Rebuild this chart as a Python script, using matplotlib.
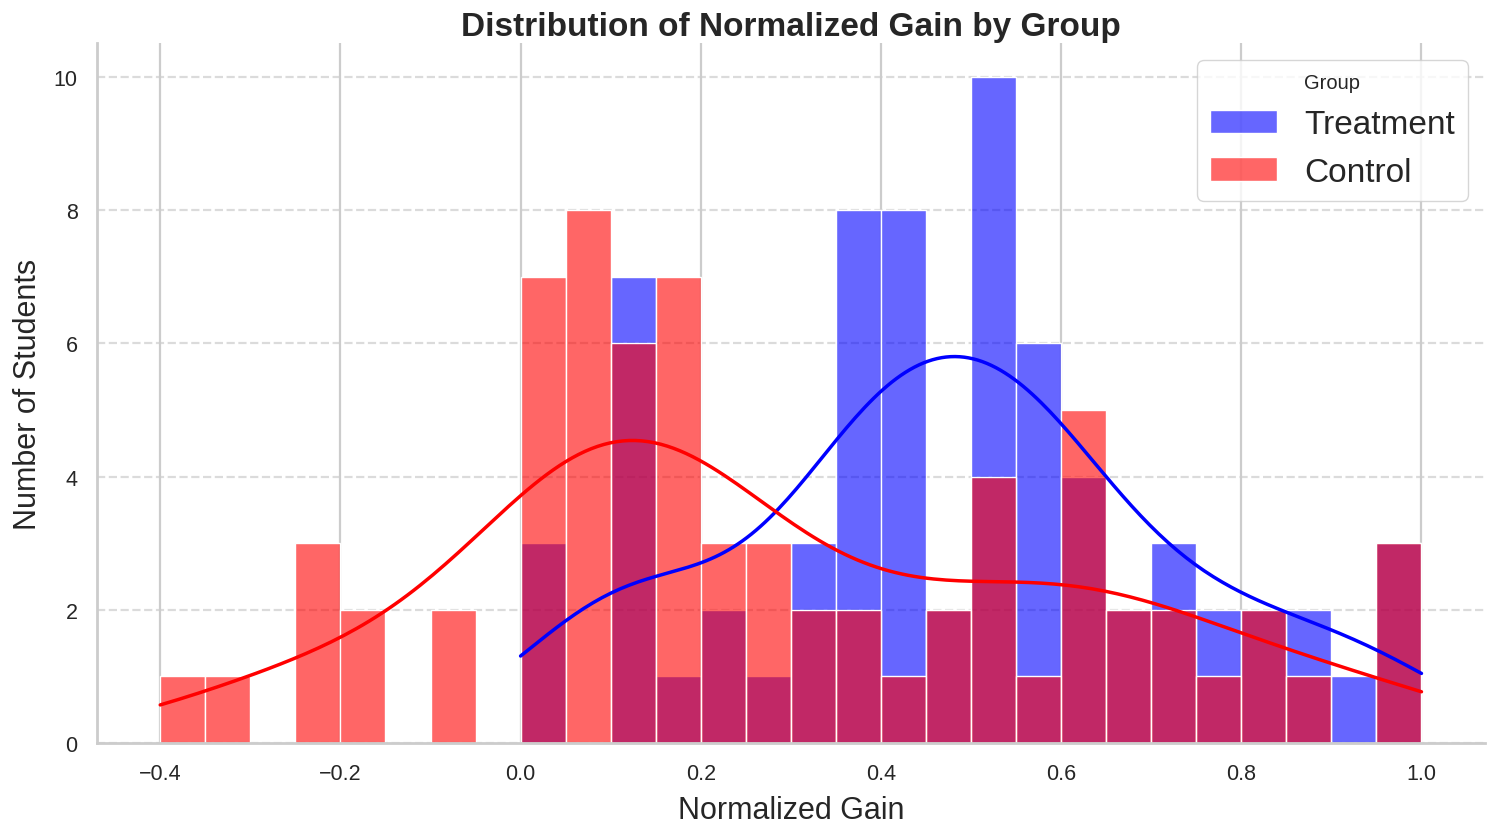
import numpy as np
import matplotlib
matplotlib.use("Agg")
import matplotlib.pyplot as plt
import seaborn as sns

# Histogram bins of 0.05 between -0.4 and 1.0
bin_lo = -0.4
bin_hi = 1.0
bin_w = 0.05

# Counts per bin (28 bins, left edges -0.4 ... 0.95)
treatment_counts = [0, 0, 0, 0, 0, 0, 0, 0,
                    3, 0, 7, 1, 2, 1, 3, 8, 8, 2, 10, 6, 4, 2, 3, 2, 2, 2, 1, 3]
control_counts = [1, 1, 0, 3, 2, 0, 2, 0,
                  7, 8, 6, 7, 3, 3, 2, 2, 1, 2, 4, 1, 5, 2, 2, 1, 2, 1, 0, 3]

edges = np.round(np.arange(bin_lo, bin_hi + bin_w / 2, bin_w), 3)
centers = (edges[:-1] + edges[1:]) / 2
treatment_gain = np.repeat(centers, treatment_counts)
control_gain = np.repeat(centers, control_counts)

sns.set_theme(style="whitegrid")
plt.rcParams['font.family'] = ['Liberation Sans', 'DejaVu Sans']
plt.rcParams['grid.linewidth'] = 1.6

fig, ax = plt.subplots(figsize=(14.95, 8.37), dpi=100)

sns.histplot(treatment_gain, bins=edges, color="blue", alpha=0.6, kde=True,
             kde_kws={"cut": 3, "clip": (0.0, bin_hi)},
             line_kws={"linewidth": 2.5}, edgecolor="white", label="Treatment", ax=ax)
sns.histplot(control_gain, bins=edges, color="red", alpha=0.6, kde=True,
             kde_kws={"cut": 3, "clip": (bin_lo, bin_hi)},
             line_kws={"linewidth": 2.5}, edgecolor="white", label="Control", ax=ax)

ax.set_title("Distribution of Normalized Gain by Group", fontsize=24, fontweight="bold")
ax.set_xlabel("Normalized Gain", fontsize=22, labelpad=8)
ax.set_ylabel("Number of Students", fontsize=22, labelpad=8)
ax.tick_params(labelsize=15.5, pad=8)
ax.grid(axis="y", linestyle="--", alpha=0.7)
sns.despine(ax=ax)
for s in ax.spines.values():
    s.set_linewidth(2)
ax.legend(title="Group", fontsize=24, title_fontsize=14.5)

fig.subplots_adjust(left=0.065, right=0.993, top=0.947, bottom=0.111)
plt.savefig("out.png", dpi=100)
